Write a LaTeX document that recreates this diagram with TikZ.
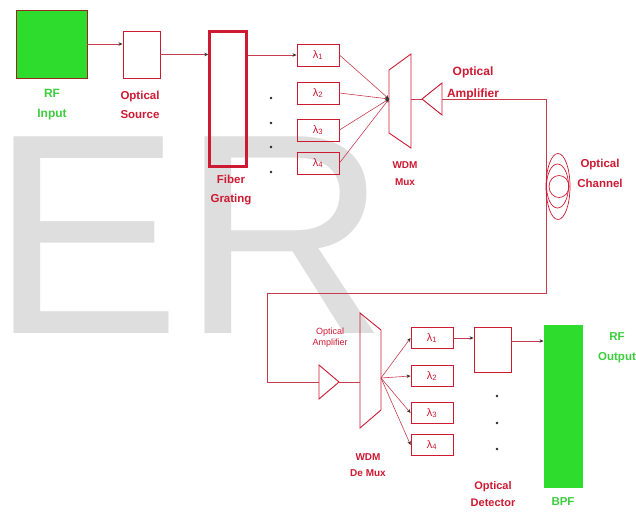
\documentclass[tikz,border=0pt]{standalone}
\usepackage{fontspec}
\setmainfont{Liberation Sans}
\usetikzlibrary{arrows.meta}
\definecolor{dred}{RGB}{205,25,50}
\definecolor{lred}{RGB}{200,60,80}
\definecolor{lgreen}{RGB}{45,220,45}
\definecolor{tgreen}{RGB}{60,205,60}
\definecolor{wm}{RGB}{222,222,222}
\definecolor{brd}{RGB}{150,40,30}
\begin{document}
\begin{tikzpicture}[x=1pt,y=-1pt,
  lbl/.style={text=dred,align=center,inner sep=0,font=\bfseries\fontsize{11.5}{19.5}\selectfont},
  glbl/.style={lbl,text=tgreen},
  box/.style={draw=dred,line width=0.9pt,inner sep=0,rectangle},
  lbox/.style={box,minimum width=42pt,minimum height=22pt,font=\fontsize{11}{11}\selectfont,text=dred},
  conn/.style={draw=lred,line width=0.6pt},
  arr/.style={conn,-{Stealth[length=4pt,width=3.5pt,color=black!80]}},
  dotm/.style={circle,fill=black!85,inner sep=0,minimum size=2.6pt}
]
\useasboundingbox (0,0) rectangle (636,513);
% watermark
\node[anchor=base west,inner sep=0,text=wm,font=\fontsize{286}{286}\selectfont] (wmark) at (-9.6,333) {ER};

% top chain
\node[box,draw=brd,fill=lgreen,minimum width=71pt,minimum height=68pt] (rf) at (51.5,44) {};
\node[glbl,font=\bfseries\fontsize{12}{20}\selectfont] (rflbl) at (52,105) {RF\\Input};
\node[box,minimum width=37pt,minimum height=47pt] (src) at (141.5,54.5) {};
\node[lbl] (srclbl) at (140,105) {Optical\\Source};
\node[box,line width=2.4pt,minimum width=37pt,minimum height=135pt] (fg) at (228,99) {};
\node[lbl] (fglbl) at (231,190) {Fiber\\Grating};

\node[lbox] (l1) at (318,55) {λ\textsubscript{1}};
\node[lbox] (l2) at (318,93) {λ\textsubscript{2}};
\node[lbox] (l3) at (318,130) {λ\textsubscript{3}};
\node[lbox] (l4) at (318,163) {λ\textsubscript{4}};
\node[dotm] (d1) at (271,98) {};
\node[dotm] (d2) at (271,123) {};
\node[dotm] (d3) at (271,147) {};
\node[dotm] (d4) at (271,172) {};

\draw[arr] (rf.east) -- (rf.east -| src.west);
\draw[arr] (src.east) -- (src.east -| fg.west);
\draw[arr] (l1.west -| fg.east) -- (l1.west);

% mux
\draw[dred,line width=0.9pt] (389,70) -- (411,54) -- (411,148) -- (389,133) -- cycle;
\coordinate (muxin) at (389,99);
\coordinate (muxout) at (411,99);
\node[lbl,font=\bfseries\fontsize{10}{17}\selectfont] (muxlbl) at (405,174) {WDM\\Mux};
\foreach \n in {l1,l2,l3,l4} \draw[arr] (\n.east) -- (muxin);

% amplifier
\draw[dred,line width=0.9pt] (422,99) -- (442,83) -- (442,115) -- cycle;
\coordinate (amptip) at (422,99);
\coordinate (ampbase) at (442,99);
\draw[conn] (muxout) -- (amptip);
\node[lbl,font=\bfseries\fontsize{12}{22}\selectfont] (amplbl) at (473,83) {Optical\\Amplifier};

% fiber channel
\coordinate (c1) at (546,99);
\coordinate (c2) at (546,293);
\coordinate (c3) at (267,293);
\coordinate (c4) at (267,382);
\coordinate (amp2in) at (319,382);
\draw[conn] (ampbase) -- (c1) -- (c2) -- (c3) -- (c4) -- (amp2in);
\draw[dred,line width=0.7pt] (558,186.5) ellipse [x radius=12pt,y radius=33pt];
\draw[dred,line width=0.7pt] (557.5,186) ellipse [x radius=11pt,y radius=22pt];
\draw[dred,line width=0.7pt] (559,186.5) ellipse [x radius=10pt,y radius=11pt];
\node[lbl,font=\bfseries\fontsize{11.5}{20}\selectfont] (chlbl) at (600,173) {Optical\\Channel};

% second amplifier
\draw[dred,line width=0.9pt] (319,365) -- (339,382) -- (319,399) -- cycle;
\coordinate (amp2tip) at (339,382);
\node[lbl,font=\fontsize{9}{11}\selectfont] (amp2lbl) at (330,338) {Optical\\Amplifier};

% demux
\draw[dred,line width=0.9pt] (360,313) -- (381,330) -- (381,410) -- (360,428) -- cycle;
\coordinate (dmxin) at (360,382);
\coordinate (dmxout) at (381,378);
\draw[conn] (amp2tip) -- (dmxin);
\node[lbl,font=\bfseries\fontsize{10}{16}\selectfont] (dmxlbl) at (368,465) {WDM\\De Mux};

\node[lbox,minimum height=21pt] (m1) at (432,338) {λ\textsubscript{1}};
\node[lbox,minimum height=21pt] (m2) at (432,376) {λ\textsubscript{2}};
\node[lbox,minimum height=21pt] (m3) at (432,413) {λ\textsubscript{3}};
\node[lbox,minimum height=21pt] (m4) at (432,445) {λ\textsubscript{4}};
\foreach \n in {m1,m2,m3,m4} \draw[arr] (dmxout) -- (\n.west);

% detector and BPF
\node[box,minimum width=37pt,minimum height=45pt] (det) at (492.5,349.5) {};
\node[lbl,font=\bfseries\fontsize{11}{17}\selectfont] (detlbl) at (493,494) {Optical\\Detector};
\node[box,draw=none,fill=lgreen,minimum width=39pt,minimum height=163pt] (bpf) at (563.5,406.5) {};
\node[glbl,font=\bfseries\fontsize{11.5}{11.5}\selectfont] (bpflbl) at (563,502) {BPF};
\node[glbl,font=\bfseries\fontsize{11.5}{20}\selectfont] (rfolbl) at (617,348) {RF\\Output};
\node[dotm] (e1) at (497,396) {};
\node[dotm] (e2) at (497,423) {};
\node[dotm] (e3) at (497,449) {};

\draw[arr] (m1.east) -- (m1.east -| det.west);
\draw[arr] ([yshift=8.5pt]det.east) -- ([yshift=8.5pt]det.east -| bpf.west);
\end{tikzpicture}
\end{document}
